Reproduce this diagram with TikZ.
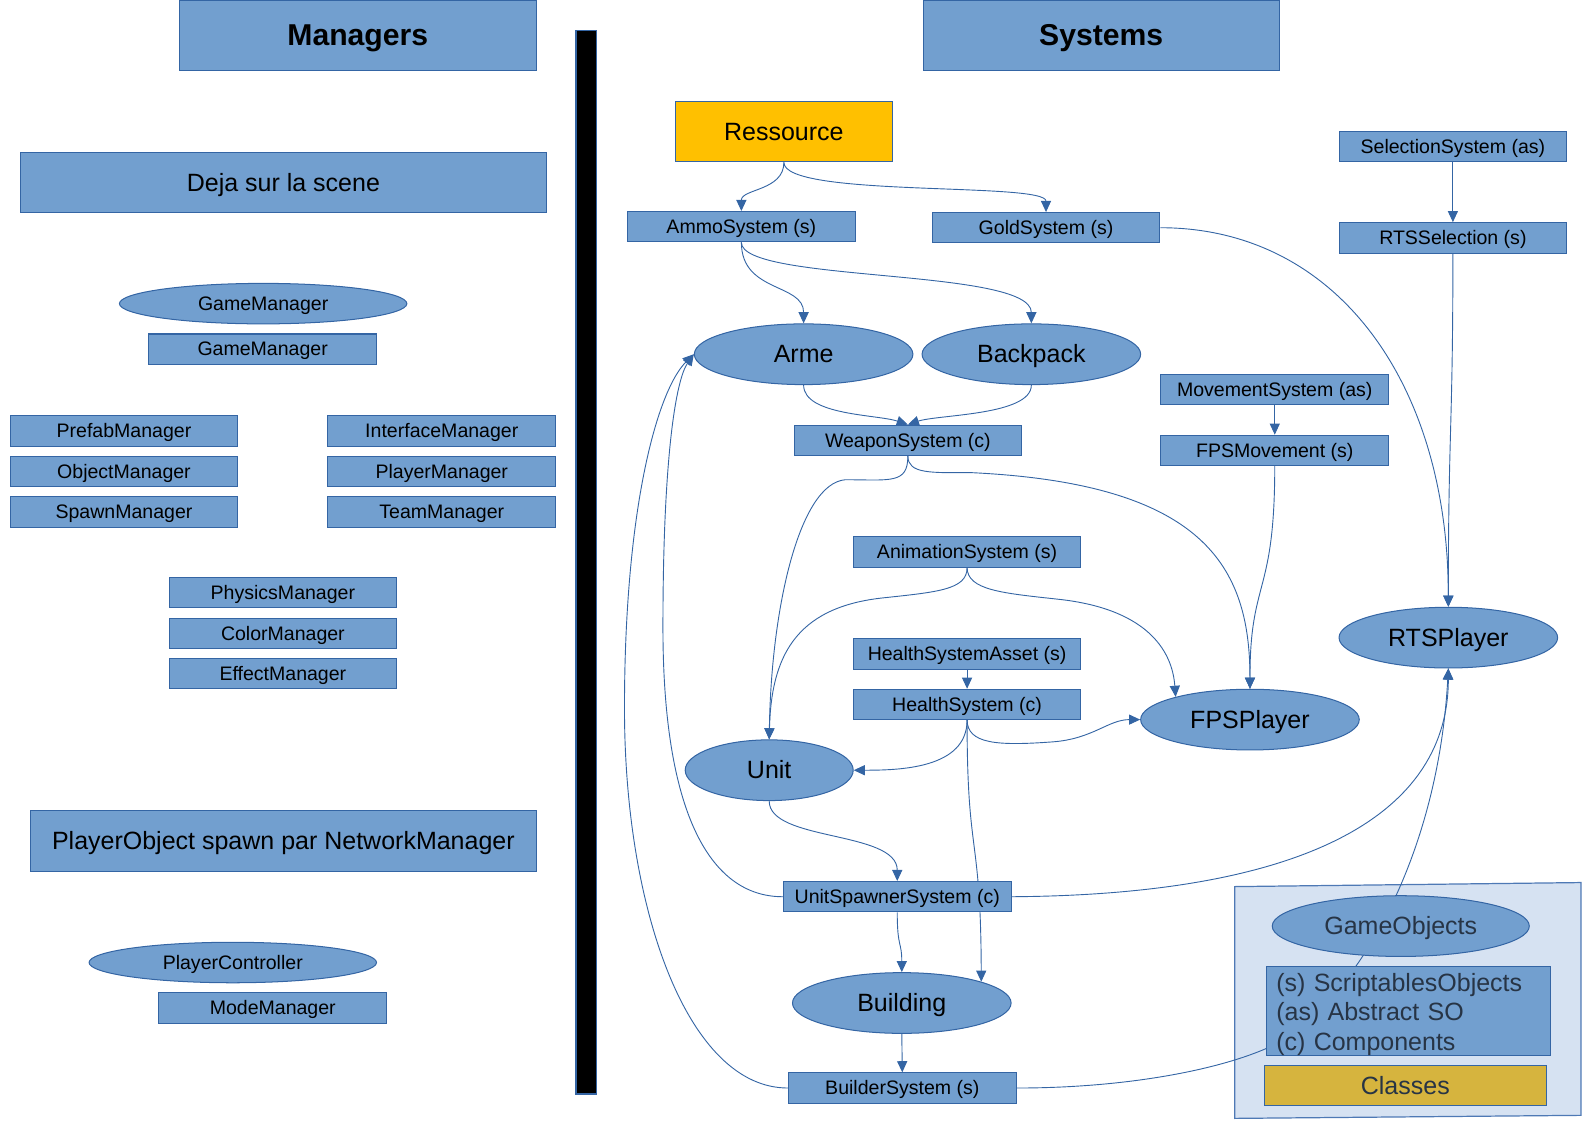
\documentclass[tikz,border=0pt]{standalone}
\usepackage{fontspec}
\setmainfont{Liberation Sans}
\usetikzlibrary{shapes.geometric,arrows.meta}
\definecolor{bfill}{HTML}{729FCF}
\definecolor{bline}{HTML}{3465A4}
\definecolor{resfill}{HTML}{FFC000}
\definecolor{legfill}{HTML}{D6E2F2}
\definecolor{legline}{HTML}{4E79B5}
\definecolor{legtext}{HTML}{273445}
\definecolor{clsfill}{HTML}{D6B43E}
\newcommand\fsmall{\fontsize{19.3}{23}\selectfont}
\newcommand\flarge{\fontsize{24.7}{29}\selectfont}
\newcommand\fbig{\fontsize{29.8}{34}\selectfont\bfseries}
\pgfdeclarelayer{bg}
\pgfdeclarelayer{edges}
\pgfsetlayers{bg,edges,main}
\tikzset{
  tsmall/.style={font=\fsmall, text height=17.5pt, text depth=4.1pt},
  tlarge/.style={font=\flarge, text height=22.4pt, text depth=5.2pt},
  tbig/.style={font=\fbig, text height=27pt, text depth=6.3pt},
  box/.style={draw=bline, fill=bfill, line width=1pt, rectangle, inner sep=0pt, text=black},
  sbox/.style={box, tsmall, minimum width=225pt, minimum height=30pt},
  ell/.style={draw=bline, fill=bfill, line width=1pt, ellipse, inner sep=0pt, text=black, tlarge},
  conn/.style={draw=bline, line width=0.9pt, -{Triangle[length=11pt,width=10pt]}},
}
\begin{document}
\begin{tikzpicture}[x=1pt,y=-1pt]
\useasboundingbox (0,0) rectangle (1569,1110);
% ---------- left: managers ----------
\node[box, tbig, minimum width=353pt, minimum height=70pt] (mgr) at (353.5,35) {Managers};
\node[box, tlarge, minimum width=520pt, minimum height=59pt] (deja) at (280,180.5) {Deja sur la scene};
\node[ell, tsmall, minimum width=284pt, minimum height=40pt] (gmE) at (260,300) {GameManager};
\node[sbox] (gmB) at (259.5,345) {GameManager};
\node[sbox] (prefab) at (122.5,426) {PrefabManager};
\node[sbox] (objm) at (122.5,466) {ObjectManager};
\node[sbox] (spawnm) at (122.5,506) {SpawnManager};
\node[sbox] (iface) at (436.5,426) {InterfaceManager};
\node[sbox] (playerm) at (436.5,466) {PlayerManager};
\node[sbox] (teamm) at (436.5,506) {TeamManager};
\node[sbox] (phys) at (279.5,585.5) {PhysicsManager};
\node[sbox] (colorm) at (279.5,626) {ColorManager};
\node[sbox] (effect) at (279.5,665.5) {EffectManager};
\node[box, tlarge, minimum width=500pt, minimum height=60pt] (net) at (280,831) {PlayerObject spawn par NetworkManager};
\node[ell, tsmall, minimum width=284pt, minimum height=40pt] (pcE) at (230,951) {PlayerController};
\node[sbox] (mode) at (269.5,996) {ModeManager};
% separator bar
\node[draw=bline, fill=black, line width=1.2pt, rectangle, inner sep=0pt, minimum width=20pt, minimum height=1051pt] (bar) at (579,555.5) {};
% ---------- right: systems ----------
\node[box, tbig, minimum width=352pt, minimum height=70pt] (sys) at (1088,35) {Systems};
\node[box, tlarge, fill=resfill, minimum width=215pt, minimum height=60pt] (res) at (774.5,130) {Ressource};
\node[sbox] (ammo) at (732.5,224) {AmmoSystem (s)};
\node[sbox] (gold) at (1033.5,225) {GoldSystem (s)};
\node[sbox] (sel) at (1435.5,145) {SelectionSystem (as)};
\node[sbox] (rtssel) at (1435.5,235) {RTSSelection (s)};
\node[ell, minimum width=216pt, minimum height=60pt] (arme) at (794,350) {Arme};
\node[ell, minimum width=216pt, minimum height=60pt] (back) at (1019,350) {Backpack};
\node[sbox] (move) at (1259.5,385) {MovementSystem (as)};
\node[sbox] (fpsmove) at (1259.5,445) {FPSMovement (s)};
\node[sbox, minimum width=224pt] (weapon) at (897,435) {WeaponSystem (c)};
\node[sbox] (anim) at (955.5,545.5) {AnimationSystem (s)};
\node[sbox] (hsa) at (955.5,646) {HealthSystemAsset (s)};
\node[sbox] (hs) at (955.5,696) {HealthSystem (c)};
\node[ell, minimum width=216pt, minimum height=60pt] (rts) at (1431,630) {RTSPlayer};
\node[ell, minimum width=216pt, minimum height=60pt] (fps) at (1235,711) {FPSPlayer};
\node[ell, minimum width=166pt, minimum height=60pt] (unit) at (760,761) {Unit};
\node[sbox] (usp) at (886.5,886) {UnitSpawnerSystem (c)};
\node[ell, minimum width=216pt, minimum height=60pt] (bld) at (891,991) {Building};
\node[sbox] (bsys) at (891.5,1075) {BuilderSystem (s)};
% ---------- legend ----------
\begin{pgfonlayer}{bg}
\draw[draw=legline, fill=legfill, line width=1.2pt] (1220,876) -- (1562,872) -- (1562,1102) -- (1220,1105) -- cycle;
\end{pgfonlayer}
\node[ell, text=legtext, minimum width=254pt, minimum height=60pt] (goE) at (1384,915) {GameObjects};
\node[box, font=\flarge, text=legtext, minimum width=281pt, minimum height=88pt, text width=261pt, align=left] (legtxt) at (1391.5,999) {\rule{0pt}{24pt}(s) ScriptablesObjects\\(as) Abstract SO\\(c) Components};
\node[box, tlarge, fill=clsfill, text=legtext, minimum width=279pt, minimum height=39pt] (classes) at (1388.5,1072.5) {Classes};
% ---------- connectors ----------
\begin{pgfonlayer}{edges}
\draw[conn] (res.south) .. controls +(0,28) and +(0,-22) .. (ammo.north);
\draw[conn] (res.south) .. controls +(0,35) and +(0,-30) .. (gold.north);
\draw[conn] (ammo.south) .. controls +(0,50) and +(0,-40) .. (arme.north);
\draw[conn] (ammo.south) .. controls +(0,40) and +(0,-55) .. (back.north);
\draw[conn] (arme.south) .. controls +(0,30) and +(-30,-10) .. (weapon.north);
\draw[conn] (back.south) .. controls +(0,30) and +(30,-10) .. (weapon.north);
\draw[conn] (weapon.south) .. controls +(0,28) and +(45,0) .. (835,474) .. controls (790,478) and (762,600) .. (unit.north);
\draw[conn] (weapon.south) .. controls +(0,18) and +(-40,0) .. (960,467) .. controls (1190,478) and (1235,560) .. (fps.north);
\draw[conn] (gold.east) .. controls +(175,0) and +(0,-220) .. (rts.north);
\draw[conn] (rtssel.south) .. controls +(0,175) and +(0,-175) .. (rts.north);
\draw[conn] (sel.south) -- (rtssel.north);
\draw[conn] (move.south) -- (fpsmove.north);
\draw[conn] (fpsmove.south) .. controls +(0,130) and +(0,-110) .. (fps.north);
\draw[conn] (anim.south) .. controls (955.5,583) and (925,585) .. (870,591) .. controls (785,601) and (762,650) .. (unit.north);
\draw[conn] (anim.south) .. controls (956,583) and (990,586) .. (1045,592) .. controls (1130,601) and (1158,640) .. (fps.163);
\draw[conn] (hsa.south) -- (hs.north);
\draw[conn] (hs.south) .. controls +(0,48) and +(45,0) .. (unit.east);
\draw[conn] (hs.south) .. controls (956,735) and (985,737) .. (1040,733) .. controls (1080,730) and (1095,711) .. (fps.west);
\draw[conn] (hs.south) .. controls (955.5,850) and (969,820) .. (bld.15);
\draw[conn] (unit.south) .. controls +(0,40) and +(0,-50) .. (usp.north);
\draw[conn] (usp.west) .. controls (700,886) and (655,800) .. (655,620) .. controls (655,450) and (668,375) .. (arme.west);
\draw[conn] (bsys.west) .. controls (680,1075) and (617,900) .. (617,700) .. controls (617,500) and (650,385) .. (arme.west);
\draw[conn] (usp.south) .. controls +(0,35) and +(0,-30) .. (bld.north);
\draw[conn] (bld.south) -- (bsys.north);
\draw[conn] (usp.east) .. controls (1300,884) and (1431,800) .. (rts.south);
\draw[conn] (bsys.east) .. controls (1110,1075) and (1200,1058) .. (1251,1036) .. controls (1330,1000) and (1420,860) .. (rts.south);
\end{pgfonlayer}
\end{tikzpicture}
\end{document}
